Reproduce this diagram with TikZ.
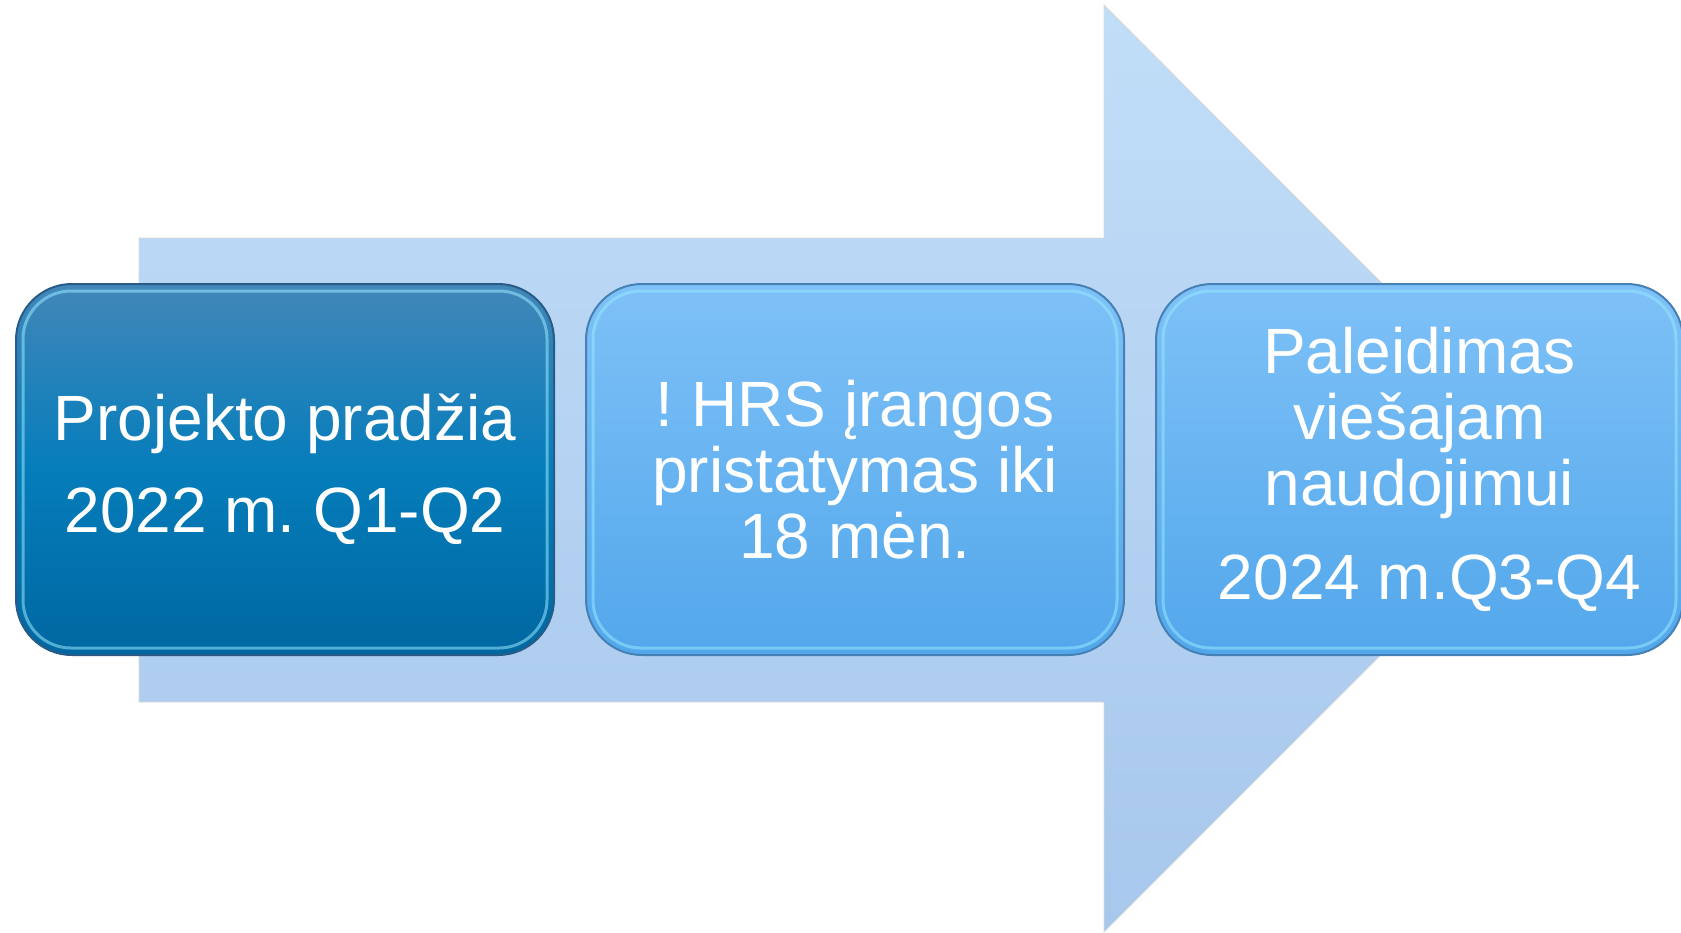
\documentclass[tikz,border=0pt]{standalone}
\usepackage{fontspec}
\setmainfont{Liberation Sans}
\usetikzlibrary{positioning}

\definecolor{arrowtop}{RGB}{193,222,248}
\definecolor{arrowbot}{RGB}{167,199,236}
\definecolor{darktop}{RGB}{66,135,185}
\definecolor{darkmid}{RGB}{5,125,187}
\definecolor{darkbot}{RGB}{0,103,160}
\definecolor{lighttop}{RGB}{126,193,247}
\definecolor{lightbot}{RGB}{82,167,235}
\definecolor{edgedark}{RGB}{40,92,135}
\definecolor{edgelight}{RGB}{70,128,180}
\definecolor{glow}{RGB}{150,232,255}

\begin{document}
\begin{tikzpicture}[x=0.5pt, y=-0.5pt,
    stage/.style={rounded corners=28pt, minimum width=269pt, minimum height=185.5pt, align=center, text=white, font=\fontsize{32}{33}\selectfont\frenchspacing, line width=1pt},
    stagedark/.style={stage, draw=edgedark, top color=darktop, bottom color=darkbot, middle color=darkmid},
    stagelight/.style={stage, draw=edgelight, top color=lighttop, bottom color=lightbot},
    highlight/.style={draw=glow, line width=1.5pt, opacity=0.55, rounded corners=24pt}]

\useasboundingbox (0,0) rectangle (1681,932);

% Big arrow behind the stages
\shade[top color=arrowtop, bottom color=arrowbot, draw=gray!30] (139,238) -- (1104,238) -- (1104,5) -- (1567,468.5) -- (1104,932) -- (1104,702) -- (139,702) -- cycle;

% Stages
\node[stagedark] (start) at (285,469.5) {Projekto pradžia\\[13pt]2022 m. Q1-Q2};
\node[stagelight, right=15pt of start] (delivery) {! HRS įrangos\\pristatymas iki\\18 mėn.};
\node[stagelight, right=15pt of delivery, minimum width=263.5pt] (launch) {Paleidimas\\viešajam\\naudojimui\\[14pt]\hspace*{10pt}2024 m.Q3-Q4};

% Bevel glow
\foreach \n in {start,delivery,launch}
  \draw[highlight] ([shift={(4pt,-4pt)}]\n.north west) rectangle ([shift={(-4pt,4pt)}]\n.south east);

\end{tikzpicture}
\end{document}
